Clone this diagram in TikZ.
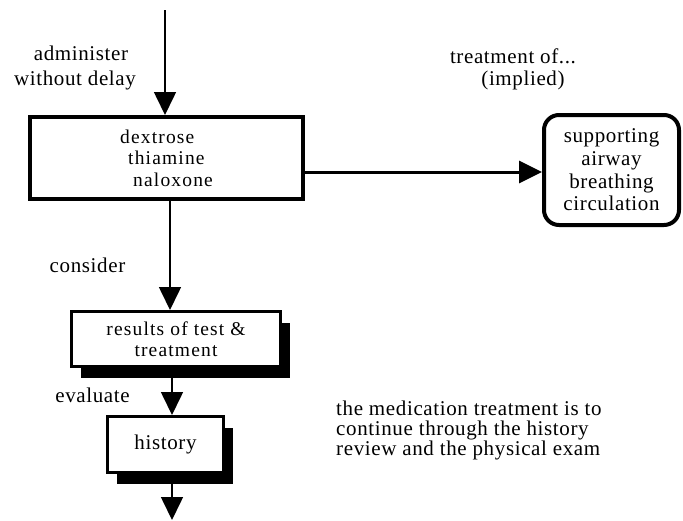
\documentclass[tikz,border=0pt]{standalone}
\usepackage{fontspec}
\setmainfont{Liberation Serif}[LetterSpace=3]
\newfontfamily\boxfont{Liberation Serif}[LetterSpace=6]
\usetikzlibrary{arrows.meta,shadows}
\begin{document}
\begin{tikzpicture}[x=1pt,y=-1pt,
  lbl/.style={font=\fontsize{21}{20}\selectfont, inner sep=0pt, anchor=base},
  box/.style={draw, line width=3pt, fill=white, inner sep=0pt, font=\boxfont\fontsize{19.5}{21.5}\selectfont, align=center},
  shbox/.style={box, drop shadow={shadow xshift=9pt, shadow yshift=-11pt, fill=black, opacity=1}},
  conn/.style={line width=1.6pt, -{Triangle[length=23pt,width=22pt]}},
]
\fill[white] (0,0) rectangle (683,520);
\useasboundingbox (0,0) rectangle (683,520);

% boxes
\node[box, line width=4pt, minimum width=273pt, minimum height=82pt, align=left] (b1) at (166.5,158)
  {dextrose\\\hspace*{8pt}thiamine\\\hspace*{13pt}naloxone};
\node[box, line width=4pt, rounded corners=15pt, minimum width=135pt, minimum height=110pt,
  font=\fontsize{21}{22.7}\selectfont] (sup) at (611.5,170)
  {supporting\\airway\\breathing\\circulation};
\node[shbox, minimum width=209pt, minimum height=55pt] (b2) at (176,339)
  {results of test \&\\treatment};
\node[shbox, minimum width=116pt, minimum height=56pt, font=\fontsize{21}{22}\selectfont] (b3) at (165.5,444.5) {history};

% labels
\node[lbl] (l1) at (81,60) {administer};
\node[lbl] (l2) at (75,85) {without delay};
\node[lbl] (l3) at (513,63) {treatment of...};
\node[lbl] (l4) at (523,85) {(implied)};
\node[lbl] (l5) at (87.5,272) {consider};
\node[lbl] (l6) at (92.5,402) {evaluate};
\node[lbl, anchor=base west] (n1) at (336,415) {the medication treatment is to};
\node[lbl, anchor=base west] (n2) at (336,435) {continue through the history};
\node[lbl, anchor=base west] (n3) at (336,455) {review and the physical exam};

% connectors
\coordinate (top) at (165,10);
\coordinate (c1) at (170,0);
\coordinate (c2) at (172,0);
\coordinate (c3) at (0,172);
\coordinate (bottom) at (172,520);
\draw[conn] (top) -- (b1.north -| top);
\draw[conn] (b1.south -| c1) -- (b2.north -| c1);
\draw[conn] (b2.south -| c2) ++(0,10) -- (b3.north -| c2);
\draw[conn] (b3.south -| c2) -- (bottom);
\draw[conn, line width=3pt] (b1.east |- c3) -- (sup.west |- c3);
\end{tikzpicture}
\end{document}
